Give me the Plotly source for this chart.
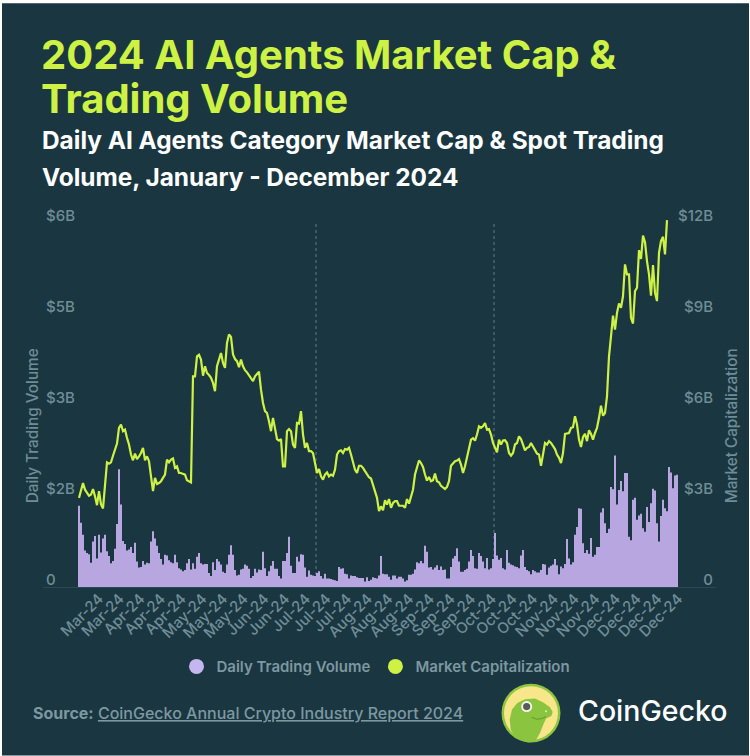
import plotly.graph_objects as go

BG = "#1a3641"
LIME = "#cdf243"
LAVENDER = "#b8a6e0"
MUTED = "#6f8d96"

# -----------------------------
# Daily values in $B
# -----------------------------

volume = [
    1.34, 1.06, .86, .60, .56, .54, .40, .75, .84, .47, .86, .57, .80, .86, .59, .51, .39, .43, .63, 1.04,
    1.94, 1.36, .76, .71, .60, .62, .66, .56, .73, .42, .32, .33, .43, .37, .40, .39, .75, .92, .80, .68,
    .56, .46, .37, .53, .52, .44, .41, .39, .53, .41, .31, .29, .26, .28, .39, .46, .29, .39, .30, .50,
    .56, .39, .37, .38, .38, .23, .18, .41, .28, .46, .42, .37, .25, .23, .37, .53, .69, .53, .28, .19,
    .20, .29, .30, .37, .35, .30, .15, .18, .30, .24, .29, .28, .58, .31, .18, .26,
    .35, .43, .30, .30, .18, .14, .43, .43, .56, .83, .35, .23, .23, .50, .42, .54, .53, .32, .17, .27,
    .20, .19, .18, .23, .26, .18, .14, .22, .14, .14, .13, .12, .11, .10, .33, .30, .31, .22, .21, .14,
    .19, .18, .18, .16, .15, .15, .15, .09, .16, .10, .12, .16, .15, .14, .19, .51, .22, .21, .21, .17,
    .12, .19, .19, .14, .17, .17, .14, .09, .11, .20, .20, .22, .29, .41, .39, .43, .39, .68, .58, .32,
    .33, .29, .32, .36, .28, .34, .28, .29, .14, .14, .33, .47, .51, .64, .42, .25, .25, .28, .30, .42,
    .61, .51, .31, .30, .56, .51, .42, .31, .48, .29, .31, .46, .89, .52, .45, .48, .31, .29, .61, .40,
    .37, .36, .34, .33, .31, .52, .61, .33, .28, .26, .21, .28, .26, .24, .24, .28, .38, .37, .20, .32,
    .35, .37, .46, .36, .21, .34, .31, .38, .79, .47, .37, .41, .86, .99, 1.30, 1.29, .72, .56, .61, .55,
    .81, .50, .53, .66, .66, 1.23, 1.30, 1.05, .89, .96, 1.65, 1.61, 2.17, 1.36, 1.60, 1.75, 1.58, 1.88, 1.88, .83,
    .77, 1.44, 1.47, 1.11, 1.18, 1.21, .97, .91, 1.32, 1.07, 1.38, 1.62, 1.59, 1.05, .75, 1.17, 1.44, 1.30, 1.25, 1.98,
    1.89, 1.63, 1.84, 1.85,
]

market_cap = [
    2.94, 3.16, 3.43, 3.21, 3.12, 3.01, 3.05, 3.23, 2.99, 2.70, 3.16, 2.72, 2.59, 3.32, 4.11, 4.07, 4.11, 4.33, 4.53, 4.73,
    5.25, 5.36, 5.14, 5.19, 4.92, 4.70, 4.37, 4.18, 4.40, 4.22, 4.31, 4.42, 4.59, 4.18, 4.31, 4.15, 3.65, 3.16, 3.60, 3.40,
    3.43, 3.49, 3.60, 3.71, 4.20, 4.11, 4.20, 4.24, 3.93, 3.98, 3.76, 3.76, 3.73, 3.71, 3.52, 3.49, 3.45, 6.95, 6.95, 7.61,
    7.66, 7.50, 6.97, 7.28, 7.06, 6.99, 6.90, 6.73, 6.46, 7.28, 7.50, 7.72, 7.39, 7.23, 8.05, 8.33, 8.25, 7.67, 7.52, 7.45,
    7.25, 7.50, 7.28, 7.15, 7.08, 6.97, 6.86, 6.79, 6.95, 7.01, 7.10, 6.51, 6.07, 5.80, 5.74, 5.47, 5.14, 5.58, 5.19, 4.88,
    4.83, 4.88, 3.98, 3.98, 5.14, 5.21, 5.14, 4.70, 4.59, 5.41, 5.39, 5.80, 5.03, 4.59, 4.75, 4.48, 4.48, 4.42, 4.09, 3.76,
    3.89, 3.65, 3.54, 3.71, 3.78, 3.65, 3.71, 3.67, 3.87, 4.37, 4.48, 4.51, 4.42, 4.55, 4.53, 4.59, 4.37, 4.15, 3.87, 3.76,
    4.00, 4.00, 3.93, 3.82, 3.71, 3.62, 3.58, 3.38, 3.16, 2.94, 2.50, 2.66, 2.53, 2.86, 2.72, 2.90, 2.61, 2.77, 2.83, 2.83,
    2.68, 2.68, 2.68, 2.61, 2.90, 2.75, 2.99, 3.21, 3.71, 3.98, 4.17, 4.09, 3.96, 3.71, 3.51, 3.63, 3.49, 3.52, 3.74, 3.49,
    3.45, 3.34, 3.29, 3.23, 3.30, 3.49, 4.00, 4.09, 4.15, 4.17, 4.22, 4.04, 3.76, 3.98, 4.26, 4.51, 4.86, 4.91, 4.83, 5.03,
    5.30, 5.25, 5.30, 5.41, 5.19, 5.21, 5.03, 4.75, 4.59, 4.44, 4.86, 4.70, 4.83, 4.84, 4.75, 4.42, 4.33, 4.42, 4.70, 4.75,
    4.97, 4.88, 4.70, 4.51, 4.59, 4.62, 4.75, 4.62, 4.48, 4.40, 4.37, 4.00, 4.37, 4.75, 4.70, 4.81, 4.75, 4.64, 4.55, 4.37,
    4.26, 4.09, 4.42, 5.05, 5.07, 5.08, 5.25, 5.27, 5.63, 5.36, 4.86, 4.62, 4.95, 5.05, 4.81, 5.17, 5.05, 4.86, 5.08, 5.25,
    5.58, 5.98, 5.65, 5.74, 6.29, 7.61, 8.27, 8.95, 8.49, 9.04, 9.35, 9.21, 9.59, 10.64, 10.31, 10.31, 8.88, 8.69, 9.76, 9.87,
    11.11, 10.82, 11.59, 11.37, 10.75, 10.31, 9.61, 10.62, 9.70, 9.43, 11.02, 11.41, 11.55, 10.97, 12.10,
]

tick_labels = [
    "Mar-24", "Mar-24", "Apr-24", "Apr-24", "Apr-24", "May-24", "May-24", "May-24", "Jun-24", "Jun-24",
    "Jul-24", "Jul-24", "Jul-24", "Aug-24", "Aug-24", "Aug-24", "Sep-24", "Sep-24", "Sep-24", "Oct-24",
    "Oct-24", "Oct-24", "Nov-24", "Nov-24", "Nov-24", "Dec-24", "Dec-24", "Dec-24", "Dec-24",
]
tick_pos = [10 + k * 10.34 for k in range(len(tick_labels))]

# plot box in page pixels, used to place the logo and texts
LEFT, RIGHT, TOP, BOTTOM = 43, 716, 205, 597.3


def px(x):
    return (x - LEFT) / (RIGHT - LEFT)


def py(y):
    return (BOTTOM - y) / (BOTTOM - TOP)


def note(x, y, text, size, color, xanchor="left", weight=400, angle=0):
    fig.add_annotation(
        x=px(x), y=py(y), xref="paper", yref="paper", text=text, showarrow=False,
        xanchor=xanchor, yanchor="middle", textangle=angle,
        font=dict(family="Inter", size=size, color=color, weight=weight),
    )


def logo_path(points):
    # points are in the 3x crop of the logo, origin at (490, 675)
    coords = [(px(490 + a / 3), py(675 + b / 3)) for a, b in points]
    return "M " + " L ".join(f"{a:.5f},{b:.5f}" for a, b in coords) + " Z"


def circle(cx, cy, r, color):
    fig.add_shape(
        type="circle", xref="paper", yref="paper", layer="above", line_width=0, fillcolor=color,
        x0=px(cx - r), x1=px(cx + r), y0=py(cy + r), y1=py(cy - r),
    )


fig = go.Figure()

fig.add_bar(
    x=list(range(len(volume))), y=volume, name="Daily Trading Volume",
    marker=dict(color=LAVENDER, line_width=0), width=0.72, showlegend=False,
)
fig.add_scatter(
    x=list(range(len(market_cap))), y=market_cap, name="Market Capitalization", yaxis="y2",
    mode="lines", line=dict(color=LIME, width=2.2), showlegend=False,
)
# round legend keys
fig.add_scatter(x=[None], y=[None], mode="markers", name="Daily Trading Volume",
                marker=dict(color="#c6b6ef", size=15))
fig.add_scatter(x=[None], y=[None], mode="markers", name="Market Capitalization",
                marker=dict(color=LIME, size=15))

# page background leaves a thin white edge like the source image
fig.add_shape(type="rect", xref="paper", yref="paper", layer="below", line_width=0, fillcolor=BG,
              x0=px(2), x1=px(749), y0=py(756), y1=py(3))

for marker_x in [118.5, 207.5]:
    fig.add_shape(type="line", x0=marker_x, x1=marker_x, y0=0, y1=5.99, xref="x", yref="y", layer="below",
                  line=dict(color="#5f7c85", width=1, dash="dot"))

fig.update_layout(
    width=750, height=756,
    margin=dict(l=LEFT, r=750 - RIGHT, t=TOP, b=756 - BOTTOM, autoexpand=False),
    paper_bgcolor="white", plot_bgcolor="rgba(0,0,0,0)",
    font=dict(family="Inter", color=MUTED),
    showlegend=True,
    legend=dict(orientation="h", x=px(376), xanchor="center", y=py(667), yanchor="middle",
                font=dict(size=15, color="#7d98a0", weight=600), bgcolor="rgba(0,0,0,0)",
                traceorder="normal"),
    xaxis=dict(
        range=[-18, 318.5], showgrid=False, zeroline=False, showline=False,
        tickmode="array", tickvals=tick_pos, ticktext=tick_labels, tickangle=-45,
        ticks="", ticklabelstandoff=-11, ticklabeloverflow="allow",
        tickfont=dict(size=15, color=MUTED, weight=500),
    ),
    yaxis=dict(
        range=[-0.165, 6.3], showgrid=False, zeroline=True, zerolinecolor="#2c4853", zerolinewidth=1,
        tickmode="array", tickvals=[0, 1.5, 3, 4.5, 6], ticktext=["0", "$2B", "$3B", "$5B", "$6B"],
        ticklabelposition="inside", ticklabelshift=-7, ticks="",
        tickfont=dict(size=15, color=MUTED, weight=500),
    ),
    # side="left" at the right edge keeps the labels right-aligned inside the box
    yaxis2=dict(
        range=[-0.33, 12.6], overlaying="y", side="left", showgrid=False, zeroline=False,
        anchor="free", position=1,
        tickmode="array", tickvals=[0, 3, 6, 9, 12], ticktext=["0", "$3B", "$6B", "$9B", "$12B"],
        ticklabelposition="outside", ticklabelshift=-7, ticklabelstandoff=3, ticks="",
        tickfont=dict(size=15, color=MUTED, weight=500),
    ),
)

# -----------------------------
# Titles, axis names and source
# -----------------------------

note(39, 54.5, "2024 AI Agents Market Cap &", 40, LIME, weight=700)
note(39, 98.5, "Trading Volume", 40, LIME, weight=700)
note(39.5, 140, "Daily AI Agents Category Market Cap & Spot Trading", 24.4, "white", weight=700)
note(39.5, 177, "Volume, January - December 2024", 24.4, "white", weight=700)
note(32, 426.5, "Daily Trading Volume", 15.3, MUTED, xanchor="center", weight=500, angle=-90)
note(731, 426.5, "Market Capitalization", 15.3, MUTED, xanchor="center", weight=500, angle=-90)
note(31, 713, "<b>Source:</b> <u>CoinGecko Annual Crypto Industry Report 2024</u>", 16, "#7d98a0", weight=500)
note(576, 711, "CoinGecko", 28.5, "white", weight=500)

# -----------------------------
# CoinGecko logo
# -----------------------------

circle(531, 713.5, 29.5, "#8dc63f")
circle(531, 713.5, 27, "#f8e68a")
fig.add_shape(
    type="path", xref="paper", yref="paper", layer="above", line_width=0, fillcolor="#8bc53f",
    path=logo_path([
        (95, 198), (72, 182), (62, 165), (59, 135), (66, 105), (82, 85), (105, 74), (135, 72), (160, 84),
        (180, 98), (188, 112), (184, 124), (168, 132), (160, 150), (150, 175), (136, 200), (115, 204),
    ]),
)
fig.add_shape(
    type="path", xref="paper", yref="paper", layer="above", line=dict(color="#5f9a2e", width=1),
    path="M " + " L ".join(
        f"{px(490 + a / 3):.5f},{py(675 + b / 3):.5f}"
        for a, b in [(125, 128), (140, 134), (155, 132), (168, 126)]
    ),
)
circle(490 + 110 / 3, 675 + 96 / 3, 5.5, "#f4f6ec")
circle(490 + 110 / 3, 675 + 96 / 3, 3.6, "#5a5a5a")
circle(490 + 168 / 3, 675 + 110 / 3, 1, "#e6efc4")

# the browser's default body margin would push the figure off the page
fig.write_html("out.html", config={"displayModeBar": False}, post_script="document.body.style.margin = '0';")
